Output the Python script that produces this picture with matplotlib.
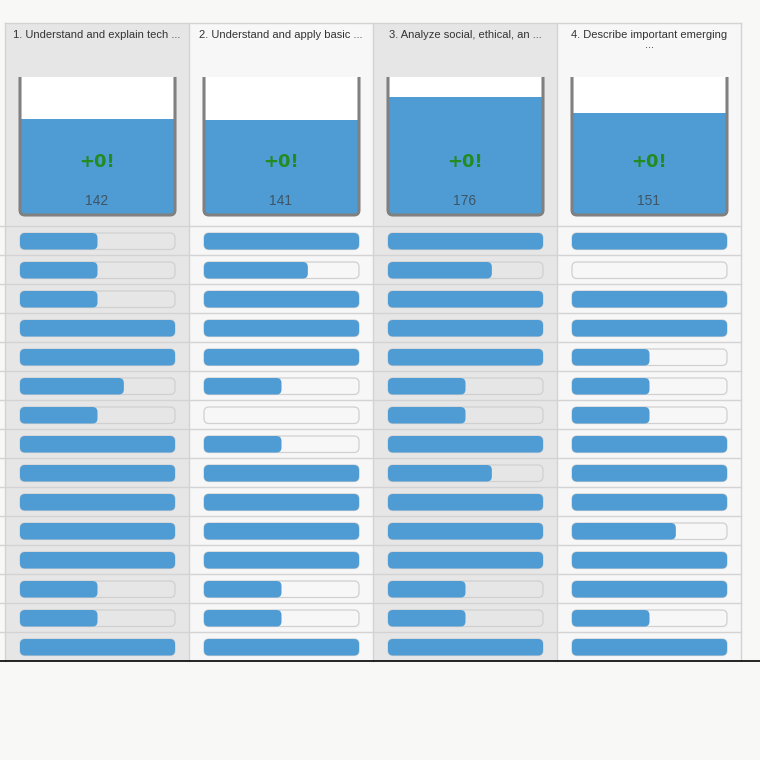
import matplotlib
matplotlib.use("Agg")
import matplotlib.pyplot as plt
from matplotlib.patches import Rectangle, FancyBboxPatch
from matplotlib.path import Path
from matplotlib.patches import PathPatch

plt.rcParams['font.family'] = ['Liberation Sans', 'DejaVu Sans']

# datos
headers = ["1. Understand and explain tech ...",
           "2. Understand and apply basic ...",
           "3. Analyze social, ethical, an ...",
           "4. Describe important emerging\n..."]
totals = [142, 141, 176, 151]
gains = ["+0!", "+0!", "+0!", "+0!"]
beaker_max = 205

# progreso por fila (15 filas) para cada columna
col1 = [0.5, 0.5, 0.5, 1, 1, 0.67, 0.5, 1, 1, 1, 1, 1, 0.5, 0.5, 1]
col2 = [1, 0.67, 1, 1, 1, 0.5, 0, 0.5, 1, 1, 1, 1, 0.5, 0.5, 1]
col3 = [1, 0.67, 1, 1, 1, 0.5, 0.5, 1, 0.67, 1, 1, 1, 0.5, 0.5, 1]
col4 = [1, 0, 1, 1, 0.5, 0.5, 0.5, 1, 1, 1, 0.67, 1, 1, 0.5, 1]
progress = [col1, col2, col3, col4]

# estilo
blue = "#4f9cd4"
grid = "#d3d3d3"
col_bg = ["#e6e6e6", "#f7f7f7", "#e6e6e6", "#f7f7f7"]

fig = plt.figure(figsize=(7.6, 7.6), dpi=100, facecolor="#f8f8f7")
ax = fig.add_axes([0, 0, 1, 1])
ax.set_xlim(0, 760)
ax.set_ylim(760, 0)
ax.axis("off")

x0, col_w = 5, 184
top, head_h, row_h = 23, 203, 29
n_rows = len(col1)
bottom = top + head_h + row_h * n_rows

for c in range(4):
    cx = x0 + c * col_w
    ax.add_patch(Rectangle((cx, top), col_w, bottom - top, facecolor=col_bg[c],
                           edgecolor="none", zorder=0))
    ax.plot([cx, cx], [top, bottom], color=grid, lw=1, zorder=1)
    mid = cx + col_w / 2

    # encabezado
    ax.text(mid, 30, headers[c], ha="center", va="top", fontsize=8,
            color="#333333", linespacing=1.05)

    # vaso
    bx0, bx1 = cx + 15, cx + 170
    by0, by1 = 77, 215
    ax.add_patch(Rectangle((bx0, by0), bx1 - bx0, by1 - by0, facecolor="white",
                           edgecolor="none", zorder=2))
    fill_h = totals[c] / beaker_max * (by1 - by0)
    ax.add_patch(Rectangle((bx0, by1 - fill_h), bx1 - bx0, fill_h, facecolor=blue,
                           edgecolor="none", zorder=3))
    r = 5
    verts = [(bx0, by0), (bx0, by1 - r), (bx0, by1), (bx0 + r, by1),
             (bx1 - r, by1), (bx1, by1), (bx1, by1 - r), (bx1, by0)]
    codes = [Path.MOVETO, Path.LINETO, Path.CURVE3, Path.CURVE3,
             Path.LINETO, Path.CURVE3, Path.CURVE3, Path.LINETO]
    ax.add_patch(PathPatch(Path(verts, codes), facecolor="none", edgecolor="#808080",
                           lw=2.2, zorder=4))
    ax.text(mid, 162, gains[c], ha="center", va="center", fontsize=13,
            fontweight="bold", family="DejaVu Sans", color="#228b22", zorder=5)
    ax.text(mid, 201, str(totals[c]), ha="center", va="center", fontsize=10,
            color="#3d5566", zorder=5)

    # barras de progreso
    for i, v in enumerate(progress[c]):
        ry = top + head_h + i * row_h
        bar_x, bar_w = cx + 15, 155
        bar_y, bar_h = ry + 7, 16.5
        ax.add_patch(FancyBboxPatch((bar_x, bar_y), bar_w, bar_h,
                                    boxstyle="round,pad=0,rounding_size=5",
                                    facecolor=col_bg[c], edgecolor="#d0d0d0",
                                    lw=0.9, zorder=2))
        if v > 0:
            ax.add_patch(FancyBboxPatch((bar_x, bar_y), bar_w * v, bar_h,
                                        boxstyle="round,pad=0,rounding_size=5",
                                        facecolor=blue, edgecolor="none", zorder=3))

# lineas de la tabla
ax.plot([x0 + 4 * col_w] * 2, [top, bottom], color=grid, lw=1, zorder=1)
ax.plot([x0, x0 + 4 * col_w], [top, top], color=grid, lw=1, zorder=1)
for i in range(n_rows):
    y = top + head_h + i * row_h
    ax.plot([0, x0 + 4 * col_w], [y, y], color=grid, lw=1, zorder=1)
ax.plot([0, 760], [bottom, bottom], color="black", lw=1.2, zorder=6)

fig.savefig("out.png", dpi=100, facecolor=fig.get_facecolor())
